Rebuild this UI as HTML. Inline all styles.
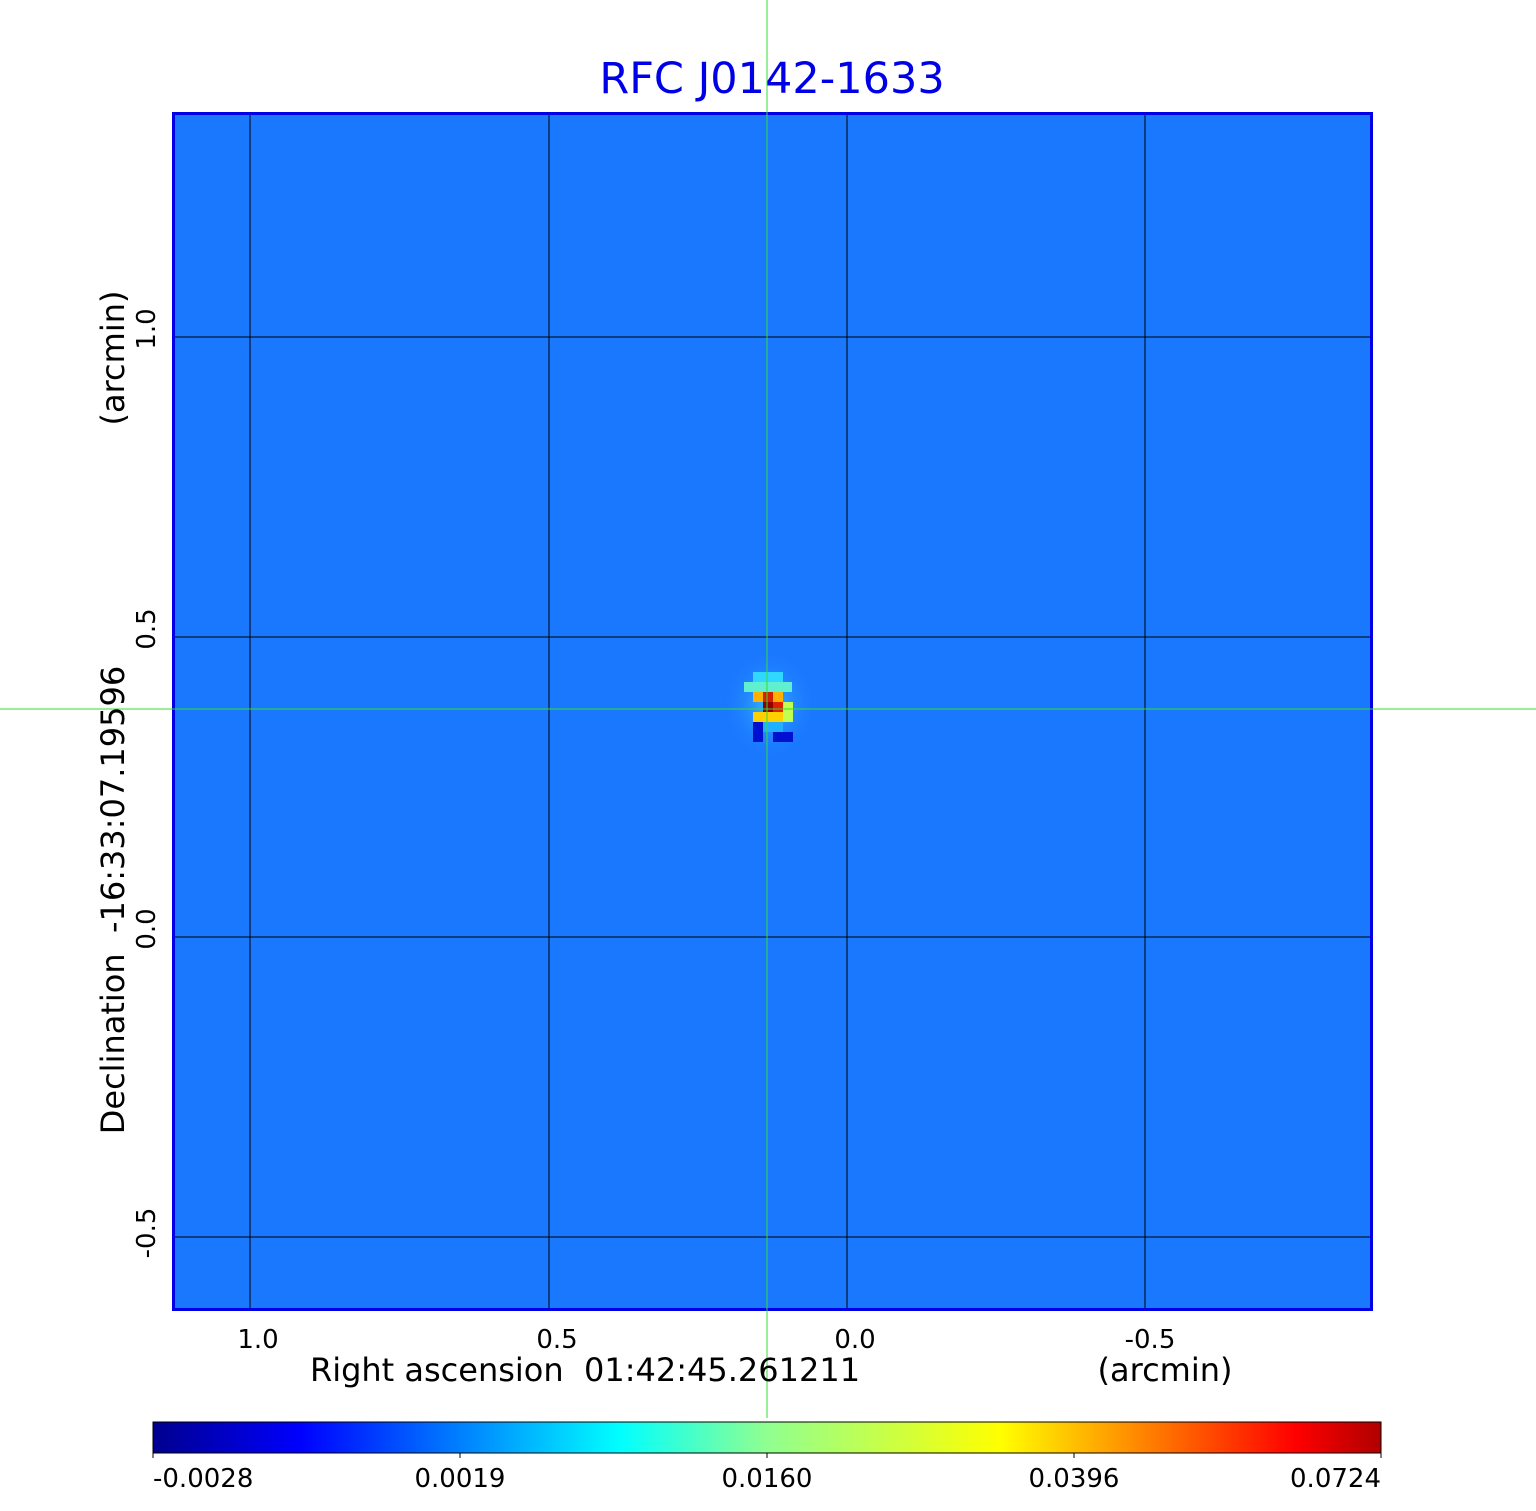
<!DOCTYPE html>
<html><head><meta charset="utf-8"><style>
html,body{margin:0;padding:0;background:#fff;}
svg{display:block;font-family:"DejaVu Sans","Liberation Sans",sans-serif;}
text{white-space:pre;}
</style></head><body>
<svg width="1536" height="1511" viewBox="0 0 1536 1511" xmlns="http://www.w3.org/2000/svg">
<defs>
<linearGradient id="jet" x1="0" x2="1" y1="0" y2="0">
<stop offset="0" stop-color="#00008f"/>
<stop offset="0.12" stop-color="#0000ff"/>
<stop offset="0.38" stop-color="#00ffff"/>
<stop offset="0.5" stop-color="#90ff90"/>
<stop offset="0.69" stop-color="#ffff00"/>
<stop offset="0.93" stop-color="#ff0000"/>
<stop offset="1" stop-color="#b00000"/>
</linearGradient>
<radialGradient id="glow" cx="0.5" cy="0.5" r="0.5">
<stop offset="0" stop-color="#40c0ff" stop-opacity="0.9"/>
<stop offset="1" stop-color="#1978ff" stop-opacity="0"/>
</radialGradient>
</defs>
<text x="772" y="93" text-anchor="middle" font-size="43" fill="#0000e6">RFC J0142-1633</text>
<rect x="172" y="112" width="1201" height="1199" fill="#1a78ff"/>
<rect x="722" y="650" width="95" height="110" fill="url(#glow)"/>
<rect x="753" y="672" width="30" height="12" fill="#30d8ff"/>
<rect x="744" y="682" width="48" height="10" fill="#60f0d0"/>
<rect x="753" y="692" width="30" height="10" fill="#ffb000"/>
<rect x="763" y="692" width="10" height="10" fill="#d02000"/>
<rect x="763" y="702" width="20" height="10" fill="#e02000"/>
<rect x="763" y="702" width="10" height="10" fill="#900000"/>
<rect x="753" y="712" width="30" height="10" fill="#ffd000"/>
<rect x="783" y="702" width="10" height="20" fill="#c0ff50"/>
<rect x="753" y="722" width="10" height="20" fill="#0010d0"/>
<rect x="773" y="732" width="20" height="10" fill="#0010d0"/>
<rect x="763" y="722" width="20" height="10" fill="#20b0ff"/>
<g stroke="#000" stroke-width="1">
<line x1="250" y1="112" x2="250" y2="1311"/>
<line x1="549" y1="112" x2="549" y2="1311"/>
<line x1="847" y1="112" x2="847" y2="1311"/>
<line x1="1145" y1="112" x2="1145" y2="1311"/>
<line x1="172" y1="337" x2="1373" y2="337"/>
<line x1="172" y1="637" x2="1373" y2="637"/>
<line x1="172" y1="937" x2="1373" y2="937"/>
<line x1="172" y1="1237" x2="1373" y2="1237"/>
</g>
<rect x="173.5" y="113.5" width="1198" height="1196" fill="none" stroke="#0000e6" stroke-width="3"/>
<line x1="767" y1="0" x2="767" y2="1418" stroke="#33dd33" stroke-width="1"/>
<line x1="0" y1="709" x2="1536" y2="709" stroke="#33dd33" stroke-width="1"/>
<g font-size="26" fill="#000" text-anchor="middle">
<text x="258" y="1348">1.0</text>
<text x="557" y="1348">0.5</text>
<text x="855" y="1348">0.0</text>
<text x="1150" y="1348">-0.5</text>
</g>
<text x="585" y="1381" text-anchor="middle" font-size="32">Right ascension  01:42:45.261211</text>
<text x="1165" y="1381" text-anchor="middle" font-size="32">(arcmin)</text>
<g font-size="26" fill="#000" text-anchor="middle">
<text transform="translate(155,329) rotate(-90)">1.0</text>
<text transform="translate(155,629) rotate(-90)">0.5</text>
<text transform="translate(155,929) rotate(-90)">0.0</text>
<text transform="translate(155,1233) rotate(-90)">-0.5</text>
</g>
<text transform="translate(124,900) rotate(-90)" text-anchor="middle" font-size="32">Declination  -16:33:07.19596</text>
<text transform="translate(124,358) rotate(-90)" text-anchor="middle" font-size="32">(arcmin)</text>
<rect x="153" y="1422" width="1228" height="31" fill="url(#jet)" stroke="#000" stroke-width="1"/>
<g stroke="#000"><line x1="153" y1="1453" x2="153" y2="1458"/><line x1="460" y1="1453" x2="460" y2="1458"/><line x1="767" y1="1453" x2="767" y2="1458"/><line x1="1074" y1="1453" x2="1074" y2="1458"/><line x1="1381" y1="1453" x2="1381" y2="1458"/></g>
<g font-size="26" fill="#000">
<text x="153" y="1487">-0.0028</text>
<text x="460" y="1487" text-anchor="middle">0.0019</text>
<text x="767" y="1487" text-anchor="middle">0.0160</text>
<text x="1074" y="1487" text-anchor="middle">0.0396</text>
<text x="1381" y="1487" text-anchor="end">0.0724</text>
</g>
</svg>
</body></html>
